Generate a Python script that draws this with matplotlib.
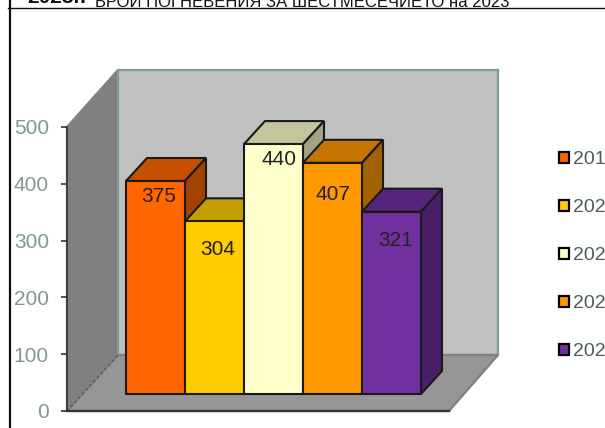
import matplotlib
matplotlib.use("Agg")
import matplotlib.pyplot as plt
from matplotlib.patches import Polygon, Patch
import matplotlib.colors as mc

# Data
years = ["2019", "2020", "2021", "2022", "2023"]
values = [375, 304, 440, 407, 321]
y_ticks = [0, 100, 200, 300, 400, 500]
title = "БРОЙ ПОГНЕВЕНИЯ ЗА ШЕСТМЕСЕЧИЕТО на 2023"
left_text = "2023г."
colors = ["#ff6600", "#ffcc00", "#ffffcc", "#ff9900", "#7030a0"]

W, H = 605, 428
fig = plt.figure(figsize=(W / 100, H / 100), dpi=100, facecolor="white")
FONT = "Liberation Sans"

# Layout in pixels
BAR_L, BAR_W, BASE_PX, PX_PER_UNIT = 126, 59, 394, 0.568
ax = fig.add_axes([0, 0, 1, 1])
ax.set_xlim(-BAR_L / BAR_W, (W - BAR_L) / BAR_W)
ax.set_ylim((BASE_PX - H) / PX_PER_UNIT, BASE_PX / PX_PER_UNIT)
ax.axis("off")

def X(px):
    return (px - BAR_L) / BAR_W

def Y(px):
    return (BASE_PX - px) / PX_PER_UNIT

# Walls and floor
back = [(118, 70), (498, 70), (498, 355), (118, 355)]
left = [(67, 127), (118, 70), (118, 355), (67, 411)]
floor = [(67, 411), (118, 355), (498, 355), (449, 411)]
for pts, fc, ec, z in [(left, "#808080", "#808080", 1), (back, "#c0c0c0", "#7f9a9a", 1),
                       (floor, "#969696", "#808080", 2)]:
    ax.add_patch(Polygon([(X(a), Y(b)) for a, b in pts], closed=True, fc=fc, ec=ec, lw=1.6, zorder=z))
ax.plot([X(67), X(118)], [Y(411), Y(355)], color="#555555", lw=1, ls=(0, (2, 2)), zorder=3)

# Bars
DX, DY = 21 / BAR_W, 23 / PX_PER_UNIT
def shade(c, f):
    return tuple(v * f for v in mc.to_rgb(c))

ec = "#1a1a1a"
label_off = [(3, 15), (3, 28), (5, 15), (0, 32), (4, 29)]
for i, (v, c) in enumerate(zip(values, colors)):
    z = 5 + i
    ax.add_patch(Polygon([(i, v), (i + 1, v), (i + 1 + DX, v + DY), (i + DX, v + DY)],
                         closed=True, fc=shade(c, 0.77), ec=ec, lw=1.5, zorder=z))
    ax.add_patch(Polygon([(i + 1, 0), (i + 1 + DX, DY), (i + 1 + DX, v + DY), (i + 1, v)],
                         closed=True, fc=shade(c, 0.64), ec=ec, lw=1.5, zorder=z))
    ax.bar(i + 0.5, v, width=1, color=c, edgecolor=ec, linewidth=1.5, zorder=z + 0.1)
for i, v in enumerate(values):
    ax.annotate(str(v), (i + 0.5, v), xytext=(label_off[i][0] * 0.72, -label_off[i][1] * 0.72),
                textcoords="offset points", ha="center", va="center",
                family=FONT, fontsize=15, color="#222222", zorder=20)

# Value axis in front of the walls
ax2 = fig.add_axes([67 / W, (H - 411) / H, (449 - 67) / W, (411 - 127) / H], zorder=3)
ax2.patch.set_alpha(0)
ax2.set_xlim(0, 1)
ax2.set_ylim(0, 500)
ax2.set_xticks([])
ax2.set_yticks(y_ticks)
ax2.tick_params(axis="y", length=4, width=1.2, color="#333333", pad=9, labelcolor="#849696", labelsize=15)
for lab in ax2.get_yticklabels():
    lab.set_family(FONT)
ax2.spines["top"].set_visible(False)
ax2.spines["right"].set_visible(False)
ax2.spines["left"].set_color("#333333")
ax2.spines["bottom"].set_color("#333333")
ax2.spines["left"].set_linewidth(1.2)
ax2.spines["bottom"].set_linewidth(1.6)

# Legend
handles = [Patch(fc=c, ec="black", lw=1.6) for c in colors]
leg = ax.legend(handles, years, loc="upper left", bbox_to_anchor=(559 / W, 1 - 151 / H),
                bbox_transform=fig.transFigure, frameon=False, borderpad=0, borderaxespad=0,
                handlelength=0.5, handleheight=0.5, handletextpad=0.2, labelspacing=1.6,
                prop={"family": FONT, "size": 14})
for t in leg.get_texts():
    t.set_color("#4a5c5c")
leg.set_zorder(30)

# Clipped header and page frame
fig.text(95 / W, 1 - 7 / H, title, family=FONT, fontsize=12, color="#111111", va="baseline", ha="left")
fig.text(27 / W, 1 - 3 / H, left_text, family=FONT, fontsize=15, weight="bold", color="#111111", va="baseline", ha="left")
ax.plot([X(8), X(605)], [Y(8), Y(8)], color="#111111", lw=1, zorder=40, clip_on=False)
ax.plot([X(10), X(10)], [Y(0), Y(428)], color="#111111", lw=1.6, zorder=40, clip_on=False)

fig.savefig("out.png", dpi=100)
